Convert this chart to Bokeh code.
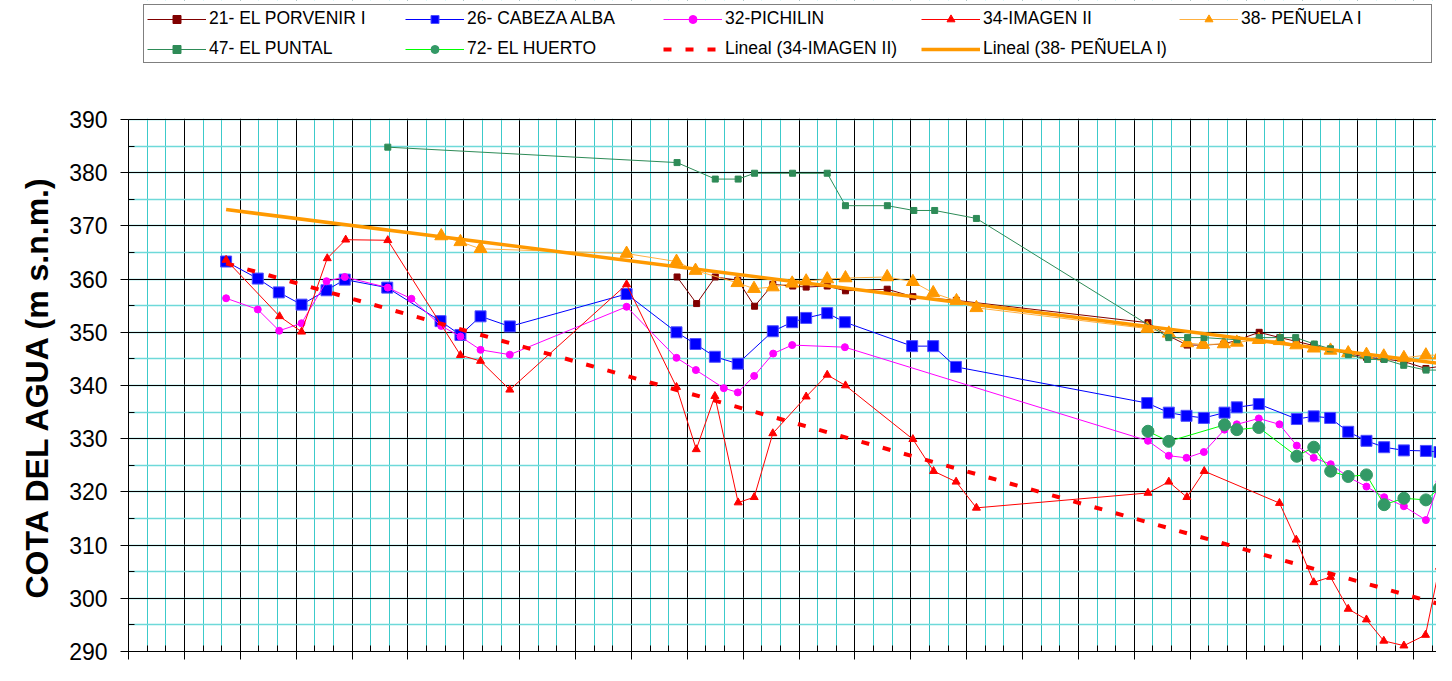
import numpy as np
from bokeh.plotting import figure
from bokeh.models import (Range1d, FixedTicker, Legend, LegendItem, CustomJSTickFormatter,
                          BoxAnnotation, Title)
from bokeh.embed import file_html
from bokeh.resources import INLINE

# ---------------- data (x = time position in minor-grid units) ----------------
porvenir_x = [29.45, 30.50, 31.50, 32.71, 33.61, 34.59, 35.66, 36.38, 37.51, 38.49, 40.73, 42.11, 44.44,
              54.73, 55.85, 56.83, 57.69, 58.80, 59.50, 60.70, 61.81, 62.69, 63.63, 64.53, 65.48, 66.46,
              67.39, 68.47, 69.65, 70.40, 72.3]
porvenir_y = [360.4, 355.4, 360.4, 359.8, 354.9, 359.0, 358.7, 358.5, 358.7, 357.8, 358.1, 356.7, 356.0,
              351.8, 349.3, 347.6, 347.6, 347.8, 348.5, 350.0, 349.0, 348.3, 347.5, 346.8, 346.0, 345.3,
              345.0, 344.5, 343.2, 343.6, 344.8]

cabeza_x = [5.24, 6.94, 8.07, 9.29, 10.63, 11.61, 13.89, 16.75, 17.82, 18.90, 20.47, 26.74, 29.42, 30.44,
            31.48, 32.71, 34.59, 35.63, 36.38, 37.51, 38.46, 42.07, 43.20, 44.42, 54.69, 55.85, 56.80,
            57.73, 58.84, 59.50, 60.68, 62.72, 63.63, 64.51, 65.48, 66.46, 67.41, 68.47, 69.65, 70.38, 72.3]
cabeza_y = [363.3, 360.1, 357.5, 355.2, 357.9, 359.9, 358.4, 352.1, 349.5, 353.0, 351.1, 357.2, 350.0, 347.8,
            345.4, 344.1, 350.2, 351.9, 352.7, 353.6, 351.9, 347.4, 347.4, 343.5, 336.7, 334.9, 334.3,
            333.9, 334.9, 335.9, 336.5, 333.7, 334.2, 333.9, 331.3, 329.6, 328.4, 327.8, 327.7, 327.5, 328.6]

pichilin_x = [5.24, 6.94, 8.09, 9.29, 10.63, 11.61, 13.92, 15.19, 16.79, 17.82, 18.90, 20.47, 26.74, 29.42,
              30.46, 31.96, 32.71, 33.59, 34.61, 35.63, 38.46, 54.73, 55.85, 56.80, 57.73, 58.84, 59.50,
              60.68, 61.79, 62.72, 63.63, 64.54, 65.48, 66.46, 67.41, 68.47, 69.65, 70.38, 72.3]
pichilin_y = [356.4, 354.3, 350.3, 351.7, 359.6, 360.4, 358.4, 356.3, 351.2, 349.2, 346.7, 345.8, 354.8, 345.2,
              342.9, 339.5, 338.7, 341.8, 346.0, 347.6, 347.2, 329.6, 326.8, 326.4, 327.5, 331.7, 332.7,
              333.8, 332.7, 328.7, 326.4, 325.2, 322.8, 321.0, 319.0, 317.3, 314.7, 321.9, 324.0]

imagen_x = [5.24, 8.11, 9.29, 10.67, 11.66, 13.92, 17.82, 18.90, 20.47, 26.74, 29.42, 30.48, 31.48, 32.73,
            33.59, 34.59, 36.38, 37.51, 38.49, 42.11, 43.22, 44.43, 45.52, 54.73, 55.85, 56.82, 57.75,
            61.79, 62.69, 63.63, 64.53, 65.48, 66.46, 67.39, 68.47, 69.63, 70.38]
imagen_y = [363.6, 353.0, 350.1, 363.9, 367.4, 367.3, 345.7, 344.6, 339.2, 359.0, 339.7, 328.0, 338.0, 318.0,
            319.0, 331.0, 337.9, 342.0, 340.0, 329.9, 323.9, 321.9, 317.0, 319.8, 321.9, 319.0, 323.9,
            317.9, 311.0, 303.0, 304.0, 298.0, 296.0, 292.0, 291.1, 293.1, 305.9]

penuela_x = [16.79, 17.82, 18.90, 26.74, 29.42, 30.44, 32.69, 33.58, 34.59, 35.63, 36.38, 37.51, 38.49,
             40.73, 42.11, 43.20, 44.45, 45.52, 54.69, 55.85, 56.83, 57.69, 58.80, 59.50, 60.68, 61.81,
             62.69, 63.63, 64.53, 65.48, 66.46, 67.39, 68.47, 69.65, 70.38, 72.3]
penuela_y = [368.1, 367.0, 365.7, 364.8, 363.3, 361.6, 359.3, 358.2, 358.5, 359.2, 359.6, 360.0, 360.2,
             360.4, 359.5, 357.4, 355.9, 354.6, 350.7, 349.8, 348.0, 347.7, 347.8, 348.1, 348.6, 348.4,
             347.6, 347.0, 346.6, 346.1, 345.8, 345.5, 345.2, 345.7, 345.7, 346.3]

puntal_x = [13.92, 29.45, 31.50, 32.73, 33.61, 35.65, 37.51, 38.49, 40.74, 42.16, 43.28, 45.52, 55.85,
            56.86, 57.74, 59.51, 60.71, 61.84, 62.66, 63.66, 64.52, 65.49, 66.52, 67.41, 68.46, 69.66,
            70.44, 72.3]
puntal_y = [384.8, 381.9, 378.8, 378.8, 379.9, 379.9, 379.9, 373.8, 373.8, 372.9, 372.9, 371.4, 349.0,
            349.0, 349.0, 348.6, 349.0, 349.0, 349.0, 347.8, 346.9, 345.8, 344.9, 344.9, 343.8, 342.9,
            342.9, 342.9]

huerto_x = [54.73, 55.85, 58.84, 59.50, 60.68, 62.72, 63.63, 64.54, 65.48, 66.46, 67.41, 68.47, 69.65,
            70.38, 72.3]
huerto_y = [331.4, 329.5, 332.6, 331.7, 332.1, 326.7, 328.4, 323.9, 322.9, 323.2, 317.6, 318.8, 318.5,
            320.7, 324.0]

trend_span = [5.24, 72.3]
x_ticks = list(range(0, 73, 3))
x_minor = list(range(0, 73))
y_ticks = list(range(290, 391, 10))
y_minor = list(range(290, 391, 5))
y_min, y_max = 290, 390
y_title = "COTA DEL AGUA (m s.n.m.)"


def linear_fit(xs, ys, xmax=71.0):
    xa = np.array(xs)
    ya = np.array(ys)
    m = xa <= xmax
    k, b = np.polyfit(xa[m], ya[m], 1)
    xt = np.array(trend_span)
    return list(xt), list(k * xt + b)


FONT = "Liberation Sans"

# frame: 390 at 119 px, 290 at 651 px; the frame also holds the legend strip above 390
H, TOP_PX, BOT_PX = 665, 119, 651
px_per_unit = (BOT_PX - TOP_PX) / (y_max - y_min)
y_top = y_max + TOP_PX / px_per_unit

p = figure(width=1436, height=H, output_backend="svg", toolbar_location=None,
           x_range=Range1d(0, 70.22), y_range=Range1d(y_min, y_top),
           min_border_left=128, min_border_right=0, min_border_top=0, min_border_bottom=H - BOT_PX)
p.outline_line_color = None
p.background_fill_color = "white"
p.border_fill_color = "white"

# axes
p.xaxis.ticker = FixedTicker(ticks=x_ticks, minor_ticks=x_minor)
p.yaxis.ticker = FixedTicker(ticks=y_ticks, minor_ticks=y_minor)
p.yaxis.bounds = (y_min, y_max)
p.xaxis.formatter = CustomJSTickFormatter(code="return ''")
p.xaxis.major_label_text_font_size = "0px"
p.xaxis.major_label_standoff = 0
for ax in (p.xaxis, p.yaxis):
    ax.axis_line_color = "black"
    ax.axis_line_width = 1
    ax.major_tick_line_color = "black"
    ax.minor_tick_line_color = "black"
    ax.major_tick_out = 8
    ax.major_tick_in = 0
    ax.minor_tick_in = 6
    ax.minor_tick_out = 0
p.yaxis.major_label_text_font = FONT
p.yaxis.major_label_text_font_size = "23px"
p.yaxis.major_label_text_color = "black"
p.yaxis.major_label_standoff = 13

# y-axis title as a side title so it can be centred on the 290-390 span
p.add_layout(Title(text=y_title, align="left", offset=53, standoff=23,
                   text_font=FONT, text_font_style="bold", text_font_size="32px",
                   text_color="black"), "left")

# grids
p.xgrid.grid_line_color = "black"
p.xgrid.grid_line_width = 1
p.xgrid.minor_grid_line_color = "#3CCACA"
p.xgrid.minor_grid_line_width = 1
p.ygrid.grid_line_color = "black"
p.ygrid.grid_line_width = 1
p.ygrid.minor_grid_line_color = "#6ED9D9"
p.ygrid.minor_grid_line_width = 1.6

# series
r_por_l = p.line(porvenir_x, porvenir_y, line_color="#800000", line_width=1)
r_por_m = p.scatter(porvenir_x, porvenir_y, marker="square", size=6, fill_color="#800000", line_color="#800000")

r_cab_l = p.line(cabeza_x, cabeza_y, line_color="#0000FF", line_width=1)
r_cab_m = p.scatter(cabeza_x, cabeza_y, marker="square", size=11, fill_color="#0000FF", line_color="#5050FF")

r_pic_l = p.line(pichilin_x, pichilin_y, line_color="#FF00FF", line_width=1)
r_pic_m = p.scatter(pichilin_x, pichilin_y, marker="circle", size=7, fill_color="#FF00FF", line_color="#FF00FF")

r_ima_l = p.line(imagen_x, imagen_y, line_color="#FF0000", line_width=1)
r_ima_m = p.scatter(imagen_x, imagen_y, marker="triangle", size=8, fill_color="#FF0000", line_color="#FF0000")

r_pen_l = p.line(penuela_x, penuela_y, line_color="#FFB040", line_width=1)
r_pen_m = p.scatter(penuela_x, penuela_y, marker="triangle", size=13, fill_color="#FF9900", line_color="#FF9900")

r_pun_l = p.line(puntal_x, puntal_y, line_color="#2E8B57", line_width=1)
r_pun_m = p.scatter(puntal_x, puntal_y, marker="square", size=6, fill_color="#2E8B57", line_color="#2E8B57")

r_hue_l = p.line(huerto_x, huerto_y, line_color="#00FF00", line_width=1)
r_hue_m = p.scatter(huerto_x, huerto_y, marker="circle", size=12, fill_color="#339966", line_color="#339966")

# linear trendlines (least squares, as Excel "Lineal")
tix, tiy = linear_fit(imagen_x, imagen_y)
tpx, tpy = linear_fit(penuela_x, penuela_y)
r_tr_ima = p.line(tix, tiy, line_color="#FF0000", line_width=4, line_dash="8 14")
r_tr_pen = p.line(tpx, tpy, line_color="#FF9900", line_width=3.5)

# white strip above the plotting area (hides grid lines there), then the legend on it
p.add_layout(BoxAnnotation(bottom=y_max + 0.12, fill_color="white", fill_alpha=1.0, line_color=None))

items = [
    LegendItem(label="21- EL PORVENIR I", renderers=[r_por_l, r_por_m]),
    LegendItem(label="26- CABEZA ALBA", renderers=[r_cab_l, r_cab_m]),
    LegendItem(label="32-PICHILIN", renderers=[r_pic_l, r_pic_m]),
    LegendItem(label="34-IMAGEN II", renderers=[r_ima_l, r_ima_m]),
    LegendItem(label="38- PEÑUELA I", renderers=[r_pen_l, r_pen_m]),
    LegendItem(label="47- EL PUNTAL", renderers=[r_pun_l, r_pun_m]),
    LegendItem(label="72- EL HUERTO", renderers=[r_hue_l, r_hue_m]),
    LegendItem(label="Lineal (34-IMAGEN II)", renderers=[r_tr_ima]),
    LegendItem(label="Lineal (38- PEÑUELA I)", renderers=[r_tr_pen]),
]
legend = Legend(items=items, location=(15, BOT_PX - 63), orientation="horizontal", ncols=5,
                glyph_width=59, glyph_height=20, label_height=20, label_width=187,
                label_standoff=3, spacing=9, padding=3, margin=0,
                label_text_font=FONT, label_text_font_size="17.5px", label_text_color="black",
                border_line_color="black", border_line_width=1,
                background_fill_color="white", background_fill_alpha=1.0)
p.add_layout(legend)

open("out.html", "w").write(file_html(p, INLINE))
